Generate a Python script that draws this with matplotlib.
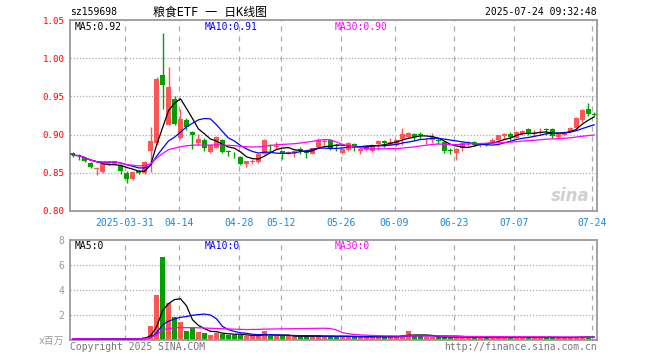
import numpy as np
import pandas as pd
import matplotlib
matplotlib.use("Agg")
import matplotlib.pyplot as plt

plt.rcParams["font.family"] = ["DejaVu Sans Mono", "Noto Sans CJK SC"]

# daily K-line data, 2025-03-18 .. 2025-07-24
opens = [0.876, 0.873, 0.869, 0.863, 0.855, 0.851, 0.861, 0.862, 0.860, 0.850,
         0.842, 0.853, 0.850, 0.879, 0.889, 0.978, 0.913, 0.947, 0.896, 0.919,
         0.903, 0.889, 0.893, 0.877, 0.883, 0.893, 0.878, 0.875, 0.871, 0.861,
         0.864, 0.864, 0.875, 0.887, 0.884, 0.878, 0.875, 0.876, 0.881, 0.879,
         0.875, 0.884, 0.890, 0.893, 0.886, 0.876, 0.880, 0.888, 0.878, 0.880,
         0.878, 0.888, 0.892, 0.887, 0.886, 0.894, 0.897, 0.901, 0.900, 0.891,
         0.893, 0.893, 0.890, 0.879, 0.876, 0.882, 0.889, 0.890, 0.887, 0.888,
         0.890, 0.893, 0.898, 0.901, 0.896, 0.901, 0.907, 0.901, 0.902, 0.907,
         0.907, 0.897, 0.900, 0.904, 0.909, 0.919, 0.934, 0.927]
highs = [0.877, 0.874, 0.870, 0.864, 0.858, 0.862, 0.865, 0.866, 0.862, 0.852,
         0.852, 0.854, 0.866, 0.910, 0.975, 1.033, 0.988, 0.951, 0.933, 0.922,
         0.905, 0.901, 0.895, 0.887, 0.898, 0.894, 0.880, 0.877, 0.872, 0.866,
         0.868, 0.875, 0.894, 0.888, 0.890, 0.879, 0.878, 0.880, 0.884, 0.880,
         0.883, 0.895, 0.894, 0.894, 0.888, 0.882, 0.890, 0.889, 0.882, 0.886,
         0.888, 0.893, 0.893, 0.895, 0.894, 0.908, 0.903, 0.902, 0.903, 0.895,
         0.902, 0.895, 0.891, 0.882, 0.883, 0.890, 0.892, 0.891, 0.889, 0.889,
         0.895, 0.900, 0.902, 0.903, 0.905, 0.906, 0.908, 0.906, 0.908, 0.909,
         0.908, 0.902, 0.905, 0.910, 0.923, 0.934, 0.942, 0.929]
lows = [0.871, 0.867, 0.864, 0.856, 0.847, 0.850, 0.860, 0.861, 0.848, 0.837,
        0.841, 0.849, 0.849, 0.851, 0.887, 0.933, 0.912, 0.912, 0.894, 0.906,
        0.881, 0.886, 0.878, 0.876, 0.882, 0.876, 0.872, 0.869, 0.860, 0.857,
        0.861, 0.863, 0.874, 0.876, 0.881, 0.868, 0.874, 0.871, 0.875, 0.870,
        0.874, 0.883, 0.886, 0.880, 0.878, 0.874, 0.879, 0.878, 0.875, 0.879,
        0.877, 0.880, 0.884, 0.886, 0.885, 0.886, 0.896, 0.893, 0.894, 0.888,
        0.889, 0.888, 0.876, 0.874, 0.867, 0.878, 0.885, 0.885, 0.884, 0.885,
        0.889, 0.890, 0.893, 0.893, 0.895, 0.900, 0.900, 0.898, 0.900, 0.900,
        0.896, 0.896, 0.899, 0.903, 0.908, 0.917, 0.924, 0.924]
closes = [0.873, 0.872, 0.865, 0.857, 0.856, 0.861, 0.864, 0.865, 0.853, 0.842,
          0.851, 0.850, 0.864, 0.892, 0.973, 0.965, 0.962, 0.914, 0.920, 0.910,
          0.899, 0.894, 0.882, 0.886, 0.897, 0.877, 0.877, 0.874, 0.862, 0.865,
          0.865, 0.874, 0.893, 0.885, 0.885, 0.875, 0.877, 0.879, 0.880, 0.876,
          0.882, 0.893, 0.891, 0.881, 0.885, 0.881, 0.889, 0.883, 0.881, 0.885,
          0.887, 0.892, 0.889, 0.890, 0.893, 0.901, 0.902, 0.897, 0.899, 0.892,
          0.897, 0.892, 0.878, 0.878, 0.881, 0.889, 0.890, 0.887, 0.888, 0.887,
          0.893, 0.899, 0.901, 0.897, 0.904, 0.905, 0.901, 0.902, 0.903, 0.906,
          0.898, 0.901, 0.904, 0.909, 0.922, 0.932, 0.927, 0.926]
# volume in millions
volumes = [0.10, 0.08, 0.09, 0.10, 0.08, 0.09, 0.07, 0.08, 0.10, 0.12,
           0.09, 0.10, 0.22, 1.12, 3.60, 6.65, 2.93, 1.87, 1.47, 0.75,
           1.07, 0.67, 0.59, 0.40, 0.60, 0.48, 0.42, 0.40, 0.42, 0.32,
           0.30, 0.32, 0.72, 0.32, 0.30, 0.32, 0.30, 0.28, 0.32, 0.30,
           0.28, 0.35, 0.30, 0.32, 0.25, 0.28, 0.30, 0.25, 0.22, 0.25,
           0.28, 0.30, 0.25, 0.28, 0.25, 0.40, 0.72, 0.35, 0.30, 0.22,
           0.25, 0.22, 0.25, 0.20, 0.22, 0.20, 0.22, 0.20, 0.18, 0.20,
           0.22, 0.20, 0.22, 0.20, 0.22, 0.20, 0.22, 0.20, 0.20, 0.22,
           0.20, 0.18, 0.20, 0.20, 0.25, 0.28, 0.25, 0.12]

date_pos = [9, 18, 28, 35, 45, 54, 64, 74, 87]
date_labels = ["2025-03-31", "04-14", "04-28", "05-12", "05-26",
               "06-09", "06-23", "07-07", "07-24"]
price_ticks = [0.80, 0.85, 0.90, 0.95, 1.00, 1.05]
vol_ticks = [0, 2, 4, 6, 8]
vol_tick_labels = ["x百万", "2", "4", "6", "8"]

RED = "#ff5555"
GREEN = "#00a000"
GRID = "#aaaaaa"
FRAME = "#999999"

df = pd.DataFrame({"o": opens, "h": highs, "l": lows, "c": closes, "v": volumes})
x = np.arange(len(df)) + 0.3
up = df["c"] >= df["o"]
colors = np.where(up, RED, GREEN)

fig = plt.figure(figsize=(6.6, 3.6), dpi=100)
ax = fig.add_axes([70 / 660, 1 - 211 / 360, 527 / 660, 191 / 360])
axv = fig.add_axes([70 / 660, 1 - 340 / 360, 527 / 660, 100 / 360])

for a in (ax, axv):
    for s in a.spines.values():
        s.set_color(FRAME)
        s.set_linewidth(1.3)
    a.set_xlim(-0.13, 87.77)
    for p in date_pos:
        a.axvline(p, color=GRID, lw=0.9, ls=(0, (4, 4)), zorder=0)

# price panel
for p in price_ticks[1:-1]:
    ax.axhline(p, color=GRID, lw=0.9, ls=(0, (1, 1.5)), zorder=0)
ax.vlines(x, df["l"], df["h"], colors=colors, lw=1, zorder=2)
body = (df["c"] - df["o"]).abs().clip(lower=0.0012)
ax.bar(x, body, bottom=df[["o", "c"]].min(axis=1), width=0.8,
       color=colors, zorder=3)
ax.plot(x, df["c"].rolling(5, min_periods=1).mean(), color="black", lw=0.9, zorder=4)
ax.plot(x, df["c"].rolling(10, min_periods=1).mean(), color="#0000ff", lw=0.9, zorder=4)
ax.plot(x, df["c"].rolling(30, min_periods=1).mean(), color="#ff00ff", lw=0.9, zorder=4)
ax.set_ylim(0.80, 1.05)
ax.set_yticks(price_ticks)
ax.set_yticklabels([f"{p:.2f}" for p in price_ticks], color="red", fontsize=6.6)
ax.set_xticks(date_pos)
ax.set_xticklabels(date_labels, color="#1a88d8", fontsize=7)
ax.tick_params(length=0, pad=4)
ax.tick_params(axis="x", pad=5)

ax.text(5 / 527, 1 - 7 / 191, "MA5:0.92", transform=ax.transAxes,
        fontsize=7, va="center", color="black")
ax.text(135 / 527, 1 - 7 / 191, "MA10:0.91", transform=ax.transAxes,
        fontsize=7, va="center", color="#0000ff")
ax.text(265 / 527, 1 - 7 / 191, "MA30:0.90", transform=ax.transAxes,
        fontsize=7, va="center", color="#ff00ff")
ax.text(0.985, 0.08, "sina", transform=ax.transAxes, ha="right", va="center",
        fontsize=12, fontweight="bold", style="italic", color="#d0d0d0",
        family="DejaVu Sans")

# volume panel
for v in vol_ticks[1:-1]:
    axv.axhline(v, color=GRID, lw=0.9, ls=(0, (1, 1.5)), zorder=0)
axv.bar(x, df["v"], width=0.8, color=colors, zorder=2)
axv.plot(x, df["v"].rolling(5, min_periods=1).mean(), color="black", lw=0.9, zorder=3)
axv.plot(x, df["v"].rolling(10, min_periods=1).mean(), color="#0000ff", lw=0.9, zorder=3)
axv.plot(x, df["v"].rolling(30, min_periods=1).mean(), color="#ff00ff", lw=0.9, zorder=3)
axv.set_ylim(0, 8)
axv.set_yticks(vol_ticks)
axv.set_yticklabels(vol_tick_labels, color="#999999", fontsize=7)
axv.set_xticks([])
axv.tick_params(length=0, pad=4)

axv.text(5 / 527, 1 - 6 / 100, "MA5:0", transform=axv.transAxes,
         fontsize=7, va="center", color="black")
axv.text(135 / 527, 1 - 6 / 100, "MA10:0", transform=axv.transAxes,
         fontsize=7, va="center", color="#0000ff")
axv.text(265 / 527, 1 - 6 / 100, "MA30:0", transform=axv.transAxes,
         fontsize=7, va="center", color="#ff00ff")

# header / footer
fig.text(70 / 660, 1 - 12 / 360, "sz159698", fontsize=7, va="center")
fig.text(210 / 660, 1 - 12 / 360, "粮食ETF 一 日K线图", fontsize=8.6,
         ha="center", va="center")
fig.text(597 / 660, 1 - 12 / 360, "2025-07-24 09:32:48", fontsize=7,
         ha="right", va="center")
fig.text(70 / 660, 1 - 347 / 360, "Copyright 2025 SINA.COM", fontsize=7,
         va="center", color="#777777")
fig.text(597 / 660, 1 - 347 / 360, "http://finance.sina.com.cn", fontsize=7,
         ha="right", va="center", color="#777777")

fig.savefig("out.png", dpi=100, facecolor="white")
